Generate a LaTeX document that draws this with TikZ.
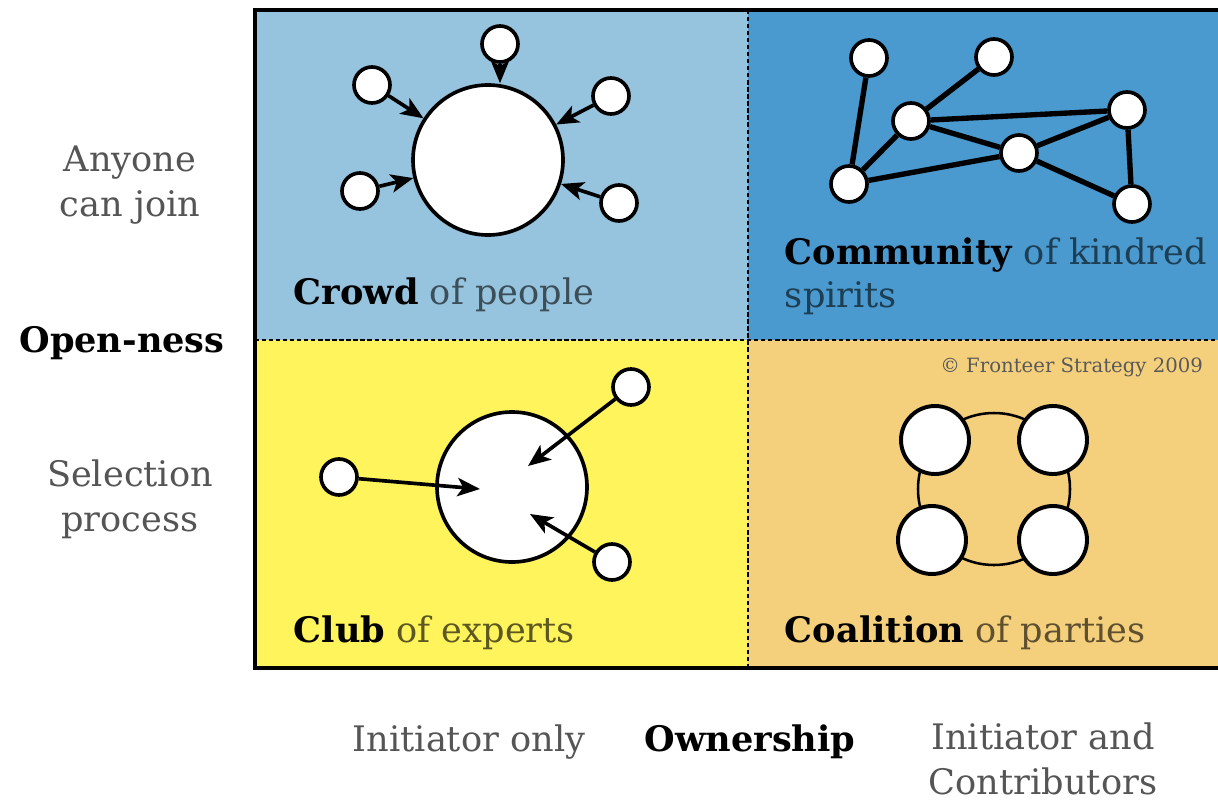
\documentclass[tikz,border=0pt]{standalone}
\usepackage{fontspec}
\setmainfont{DejaVu Serif}
\usepackage{tikz}
\usetikzlibrary{arrows.meta}

\definecolor{crowdblue}{HTML}{96C3DD}
\definecolor{commblue}{HTML}{4A9AD0}
\definecolor{clubyellow}{HTML}{FFF45C}
\definecolor{coalorange}{HTML}{F5D07C}
\definecolor{labelgray}{HTML}{555555}
\definecolor{crowdink}{HTML}{3C4E58}
\definecolor{commink}{HTML}{1E3E53}
\definecolor{clubink}{HTML}{5C5822}
\definecolor{coalink}{HTML}{5E5030}

\newlength{\unitpx}
\setlength{\unitpx}{0.025cm}
\tikzset{
  member/.style = {circle, draw = black, fill = white, line width = 2.6pt, inner sep = 0pt, minimum size = 36\unitpx},
  hub/.style = {circle, draw = black, fill = white, line width = 2.6pt, inner sep = 0pt, minimum size = 150\unitpx},
  party/.style = {circle, draw = black, fill = white, line width = 2.8pt, inner sep = 0pt, minimum size = 68\unitpx},
  joins/.style = {line width = 2.6pt, -{Stealth[length = 16pt, width = 13pt, inset = 4pt]}},
  tie/.style = {line width = 3.8pt},
  divider/.style = {line width = 2pt, dash pattern = on 3pt off 2pt},
  side/.style = {font = \fontsize{25}{32}\selectfont, text = labelgray, align = center},
  title/.style = {font = \fontsize{25}{32}\selectfont, anchor = base west, align = left},
}

\begin{document}
\begin{tikzpicture}[x = 0.025cm, y = -0.025cm]
\useasboundingbox (0,0) rectangle (1218,802);
\clip (0,0) rectangle (1218,802);
% quadrants
\fill[crowdblue] (255,10) rectangle (748,340);
\fill[commblue] (748,10) rectangle (1240,340);
\fill[clubyellow] (255,340) rectangle (748,668);
\fill[coalorange] (748,340) rectangle (1240,668);
\draw[divider] (255,340)--(1240,340);
\draw[divider] (748,10)--(748,668);
\draw[line width = 2.2pt] (1240,10)--(255,10)--(255,668)--(1240,668);

% crowd of people
\node[hub] (crowd) at (488,160) {};
\node[member] (cr1) at (372,85) {};
\node[member] (cr2) at (500,44) {};
\node[member] (cr3) at (611,96) {};
\node[member] (cr4) at (360,191) {};
\node[member] (cr5) at (619,203) {};
\draw[joins] (cr1)--(crowd);
\draw[joins] (cr2.south)--(crowd.north -| cr2);
\draw[joins] (cr3)--(crowd);
\draw[joins] (cr4)--(crowd);
\draw[joins] (cr5)--(crowd);
\node[title] (crowdtxt) at (289,304) {\textbf{Crowd} {\color{crowdink}of people}};

% community of kindred spirits
\node[member] (cm1) at (869,58) {};
\node[member] (cm2) at (994,57) {};
\node[member] (cm3) at (911,121) {};
\node[member] (cm4) at (1127,110) {};
\node[member] (cm5) at (1019,153) {};
\node[member] (cm6) at (849,184) {};
\node[member] (cm7) at (1132,204) {};
\draw[tie] (cm1)--(cm6);
\draw[tie] (cm2)--(cm3);
\draw[tie] (cm3)--(cm6);
\draw[tie] (cm3)--(cm4);
\draw[tie] (cm3)--(cm5);
\draw[tie] (cm5)--(cm4);
\draw[tie] (cm5)--(cm6);
\draw[tie] (cm5)--(cm7);
\draw[tie] (cm4)--(cm7);
\node[title] (commtxt) at (780,307) {\textbf{Community} {\color{commink}of kindred}\\[-2pt]{\color{commink}spirits}};

% club of experts
\node[hub] (club) at (512,487) {};
\node[member] (cl1) at (339,477) {};
\node[member] (cl2) at (631,387) {};
\node[member] (cl3) at (612,562) {};
\coordinate (clin1) at (480,489);
\coordinate (clin2) at (528,466);
\coordinate (clin3) at (530,514);
\draw[joins] (cl1)--(clin1);
\draw[joins] (cl2)--(clin2);
\draw[joins] (cl3)--(clin3);
\node[title] (clubtxt) at (289,642) {\textbf{Club} {\color{clubink}of experts}};

% coalition of parties
\draw[line width = 1.8pt] (994,489) circle (76);
\node[party] (co1) at (935,440) {};
\node[party] (co2) at (1053,440) {};
\node[party] (co3) at (932,540) {};
\node[party] (co4) at (1053,540) {};
\node[title] (coaltxt) at (780,642) {\textbf{Coalition} {\color{coalink}of parties}};
\node[anchor = base west, font = \fontsize{14}{17}\selectfont, text = black!65, inner sep = 0pt] (copy) at (940,372) {© Fronteer Strategy 2009};

% axes
\node[side] (anyone) at (130,185) {Anyone\\can join};
\node[font = \fontsize{25}{32}\selectfont\bfseries] (open) at (122,343) {Open-ness};
\node[side] (select) at (130,499) {Selection\\process};
\node[side, anchor = base] (initonly) at (469,751) {Initiator only};
\node[font = \fontsize{25}{32}\selectfont\bfseries, anchor = base] (owner) at (750,751) {Ownership};
\node[side, anchor = north] (initcontr) at (1043,718) {Initiator and\\Contributors};
\end{tikzpicture}
\end{document}
